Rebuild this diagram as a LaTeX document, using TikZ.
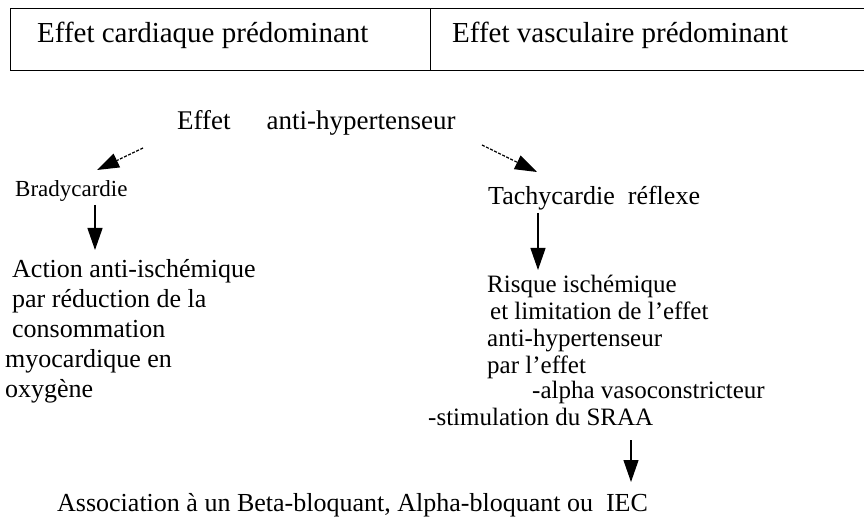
\documentclass[tikz,border=0pt]{standalone}
\usepackage{fontspec}
\setmainfont{Liberation Serif}
\usetikzlibrary{positioning,arrows.meta}

\begin{document}
\begin{tikzpicture}[x=1pt,y=-1pt,
  font=\fontsize{26}{30}\selectfont,
  cell/.style={draw,line width=1.2pt,anchor=north west,inner sep=0pt,minimum height=62pt},
  txt/.style={inner sep=0pt,anchor=base west,align=left},
  head/.style={txt,font=\fontsize{29}{34}\selectfont},
  a/.style={-{Triangle[length=22pt,width=15pt]},line width=1.2pt},
  da/.style={a,dash pattern=on 3pt off 1.5pt}]
\useasboundingbox (0,0) rectangle (864,518);
% header table
\node[cell,minimum width=420pt] (hl) at (10,8) {};
\node[cell,minimum width=450pt] (hr) at (430,8) {};
\node[head] (hc) at (37,43) {Effet cardiaque prédominant};
\node[head] (hv) at (452,43) {Effet vasculaire prédominant};
% centre
\node[txt,font=\fontsize{27}{30}\selectfont] (eff) at (177,130) {Effet\hspace{36pt}anti-hypertenseur};
% left branch
\node[txt,font=\fontsize{23}{28}\selectfont] (bra) at (15,197) {Bradycardie};
\node[txt,font=\fontsize{26}{30}\selectfont] (act) at (12,397)
  {Action anti-ischémique\\par réduction de la\\consommation\\\hspace*{-7pt}myocardique en\\\hspace*{-7pt}oxygène};
% right branch
\node[txt] (tac) at (488,205) {Tachycardie\ \ réflexe};
\node[txt,font=\fontsize{25}{26.7}\selectfont] (ris) at (487,373)
  {Risque ischémique\\\hspace*{3pt}et limitation de l’effet\\anti-hypertenseur\\par l’effet};
\node[txt,font=\fontsize{25}{26.7}\selectfont] (alp) at (532,398) {-alpha vasoconstricteur};
\node[txt,font=\fontsize{25}{26.7}\selectfont] (sti) at (428,425) {-stimulation du SRAA};
\node[txt] (ass) at (57,511) {Association à un Beta-bloquant, Alpha-bloquant ou\enspace IEC};
% arrows
\draw[da] ([shift={(-34,18)}]eff.base west) -- ([shift={(82,-27)}]bra.base west);
\draw[da] ([shift={(305,15)}]eff.base west) -- ([shift={(49,-33)}]tac.base west);
\draw[a] ([shift={(80,8)}]bra.base west) -- ([shift={(83,-147)}]act.base west);
\draw[a] ([shift={(50,8)}]tac.base west) -- ([shift={(51,-103)}]ris.base west);
\draw[a] ([shift={(203,15)}]sti.base west) -- ([shift={(574,-29)}]ass.base west);
\end{tikzpicture}
\end{document}
